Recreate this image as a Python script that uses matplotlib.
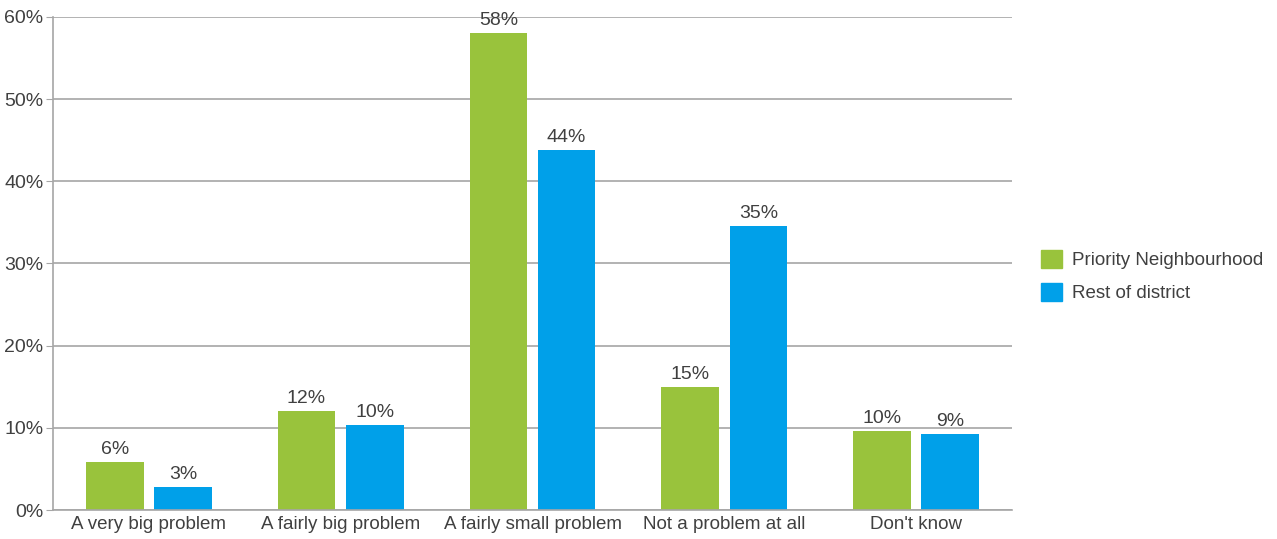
import matplotlib.pyplot as plt
import numpy as np
from matplotlib.patches import Patch

plt.rcParams['font.family'] = ['Liberation Sans', 'DejaVu Sans']

categories = ['A very big problem', 'A fairly big problem', 'A fairly small problem',
              'Not a problem at all', "Don't know"]
priority = [5.8, 12.0, 58.0, 15.0, 9.6]
rest = [2.8, 10.3, 43.8, 34.6, 9.2]
priority_labels = ['6%', '12%', '58%', '15%', '10%']
rest_labels = ['3%', '10%', '44%', '35%', '9%']

GREEN = '#99c33c'
BLUE = '#00a0e9'
TEXT = '#404040'
GRID = '#a6a6a6'

fig = plt.figure(figsize=(12.77, 5.39), dpi=100)
ax = fig.add_axes([0.0415, 0.0538, 0.751, 0.9147])

x = np.arange(len(categories))
w = 0.30
off = 0.178
b1 = ax.bar(x - off, priority, w, color=GREEN)
b2 = ax.bar(x + off, rest, w, color=BLUE)

for bars, labels in ((b1, priority_labels), (b2, rest_labels)):
    for bar, lab in zip(bars, labels):
        ax.text(bar.get_x() + bar.get_width() / 2, bar.get_height() + 0.5, lab,
                ha='center', va='bottom', fontsize=14, color=TEXT)

ax.set_xlim(-0.5, len(categories) - 0.5)
ax.set_ylim(0, 60)
ax.set_yticks(range(0, 61, 10))
ax.set_yticklabels(['{}%'.format(v) for v in range(0, 61, 10)])
ax.set_xticks(x)
ax.set_xticklabels(categories)
ax.tick_params(axis='y', length=5, color=GRID, labelsize=14, labelcolor=TEXT, pad=2)
ax.tick_params(axis='x', length=0, labelsize=13.5, labelcolor=TEXT, pad=4)

ax.yaxis.grid(True, color=GRID, linewidth=1.2)
ax.set_axisbelow(True)
for s in ('top', 'right'):
    ax.spines[s].set_visible(False)
ax.spines['left'].set_color(GRID)
ax.spines['bottom'].set_color(GRID)
ax.spines['left'].set_linewidth(1.2)
ax.spines['bottom'].set_linewidth(1.2)

handles = [Patch(color=GREEN, label='Priority Neighbourhood'),
           Patch(color=BLUE, label='Rest of district')]
fig.legend(handles=handles, loc='center left', bbox_to_anchor=(0.802, 0.488),
           frameon=False, fontsize=13.5, labelcolor=TEXT,
           handlelength=1.1, handleheight=1.1, handletextpad=0.55, labelspacing=0.7)

fig.savefig('out.png', dpi=100)
